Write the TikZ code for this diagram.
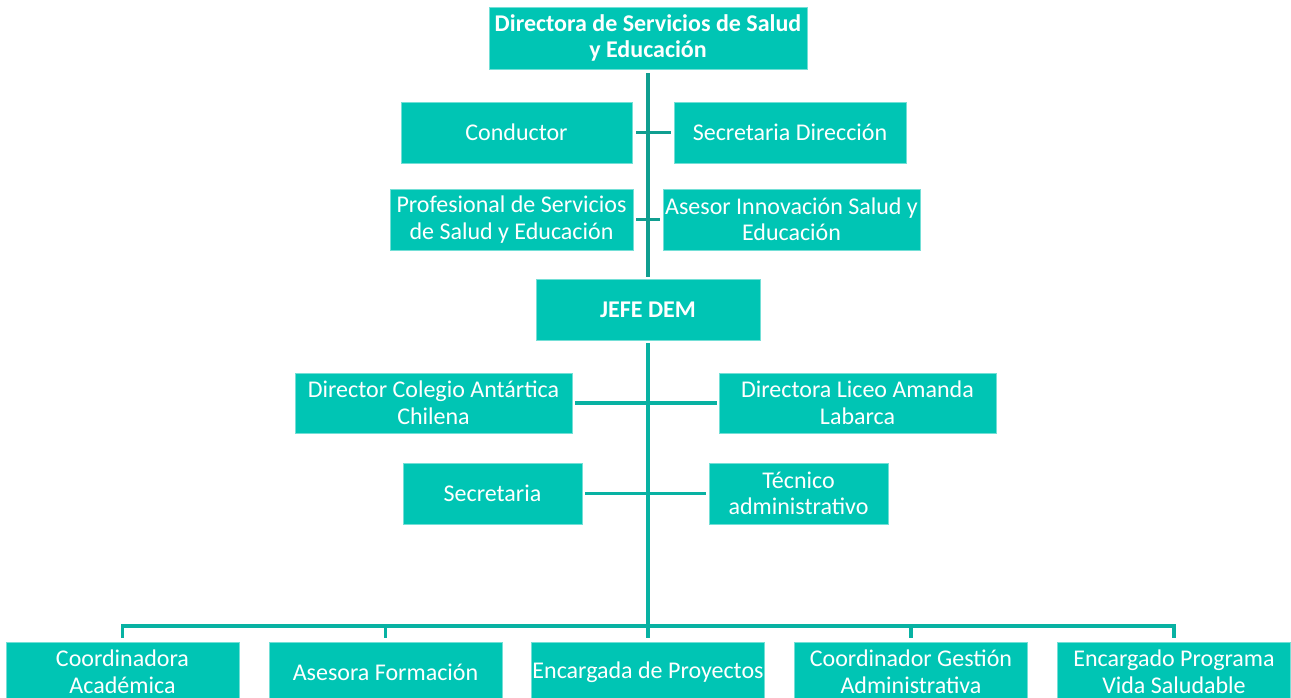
\documentclass[tikz,border=0pt]{standalone}
\usepackage{fontspec}
\setmainfont{Carlito}
\usetikzlibrary{positioning}
\definecolor{boxteal}{HTML}{00C5B4}
\definecolor{linedark}{HTML}{109E90}
\definecolor{linelight}{HTML}{08B2A3}
\tikzset{
  orgbox/.style={rectangle, fill=boxteal, draw=boxteal!55!white, line width=0.8pt,
    text=white, align=center, inner sep=0pt,
    font=\fontsize{24}{26.5}\selectfont},
  orgline/.style={line width=3.2pt}
}
\begin{document}
\begin{tikzpicture}[x=1pt,y=-1pt]
      \useasboundingbox (0,0) rectangle (1291,698);
      \begin{scope}[every node/.style={orgbox}]
        \node (dir) [minimum width=318pt,minimum height=62pt,font=\fontsize{24}{26.5}\selectfont\bfseries] at (648,38) {Directora de Servicios de Salud\\y Educación};
        \node (cond) [minimum width=231pt,minimum height=61pt] at (516.5,132.5) {Conductor};
        \node (secd) [minimum width=232pt,minimum height=61pt] at (790,132.5) {Secretaria Dirección};
        \node (prof) [minimum width=243pt,minimum height=61pt] at (511.5,219.5) {Profesional de Servicios\\de Salud y Educación};
        \node (ases) [minimum width=257pt,minimum height=61pt] at (791.5,219.5) {Asesor Innovación Salud y\\Educación};
        \node (jefe) [minimum width=224pt,minimum height=61pt,font=\fontsize{24}{27}\selectfont\bfseries] at (648,309.5) {JEFE DEM};
        \node (dcol) [minimum width=277pt,minimum height=60pt] at (433.5,403) {Director Colegio Antártica\\Chilena};
        \node (dlic) [minimum width=277pt,minimum height=60pt] at (857.5,403) {Directora Liceo Amanda\\Labarca};
        \node (sec) [minimum width=179pt,minimum height=61pt] at (492.5,493.5) {Secretaria};
        \node (tec) [minimum width=179pt,minimum height=61pt] at (798.5,493.5) {Técnico\\administrativo};
        \node (b1) [minimum width=233pt,minimum height=60pt] at (122.5,672) {Coordinadora\\Académica};
        \node (b2) [minimum width=233pt,minimum height=60pt] at (385.5,672) {Asesora Formación};
        \node (b3) [minimum width=233pt,minimum height=60pt] at (648,672) {Encargada de Proyectos};
        \node (b4) [minimum width=233pt,minimum height=60pt] at (911,672) {Coordinador Gestión\\Administrativa};
        \node (b5) [minimum width=233pt,minimum height=60pt] at (1174,672) {Encargado Programa\\Vida Saludable};
      \end{scope}
      \coordinate (bus) at (648,626);
      \begin{scope}[every edge/.style={draw=linedark, orgline}]
        \path ([yshift=-4pt]dir.south) edge ([yshift=2pt]jefe.north);
        \path ([xshift=4pt]cond.east) edge ([xshift=-3pt]secd.west);
        \path ([xshift=3pt]prof.east) edge ([xshift=-3pt]ases.west);
      \end{scope}
      \begin{scope}[every edge/.style={draw=linelight, orgline}]
        \path ([yshift=-3pt]jefe.south) edge ([yshift=4pt]b3.north);
        \path ([xshift=3pt]dcol.east) edge ([xshift=-2pt]dlic.west);
        \path ([xshift=3pt]sec.east) edge ([xshift=-3pt]tec.west);
        \foreach \b in {b1,b2,b4,b5}
          \draw[linelight, orgline] ([yshift=4pt]\b.north) |- (bus);
      \end{scope}
    \end{tikzpicture}
\end{document}
